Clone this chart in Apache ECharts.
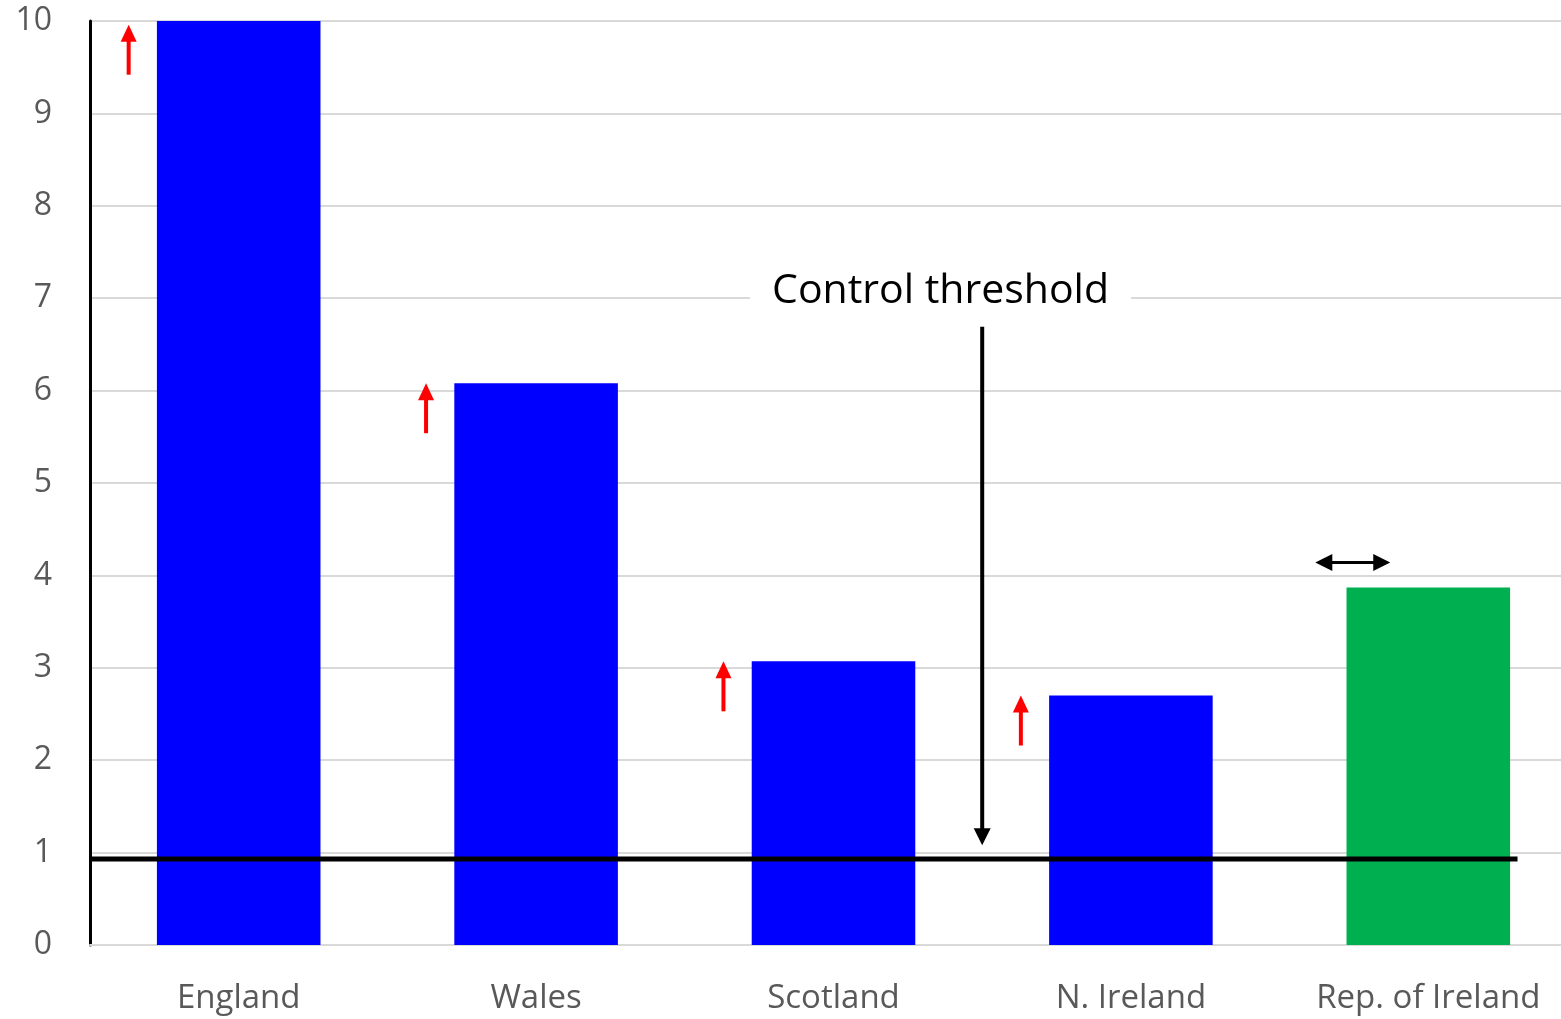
<!DOCTYPE html>
<html>
<head>
<meta charset="utf-8">
<title>Control threshold by country</title>
<script src="https://cdn.jsdelivr.net/npm/echarts@6/dist/echarts.min.js"></script>
<style>
  html, body { margin: 0; padding: 0; background: #ffffff; overflow: hidden; }
  #chart { width: 1577px; height: 1019px; }
</style>
</head>
<body>
<div id="chart"></div>
<script>
// Countries and their measured values
const categories = ['England', 'Wales', 'Scotland', 'N. Ireland', 'Rep. of Ireland'];
const values = [10, 6.08, 3.07, 2.7, 3.87];
// Direction of change for each country
const trend = ['up', 'up', 'up', 'up', 'steady'];
// Control threshold level
const threshold = 0.93;
const thresholdLabel = 'Control threshold';
// Y axis ticks
const yTicks = [0, 1, 2, 3, 4, 5, 6, 7, 8, 9, 10];

const barColours = ['#0000FF', '#0000FF', '#0000FF', '#0000FF', '#00B050'];
const FONT = '"Open Sans", Lato, sans-serif';

// Draws a straight arrow (shaft + triangular head) from (x1,y1) to (x2,y2)
function arrow(x1, y1, x2, y2, color, shaftW, headL, headW, both) {
  const dx = x2 - x1, dy = y2 - y1;
  const len = Math.sqrt(dx * dx + dy * dy);
  const ux = dx / len, uy = dy / len;
  const px = -uy, py = ux;
  const children = [];
  const head = (tx, ty, dirx, diry) => ({
    type: 'polygon',
    shape: { points: [
      [tx, ty],
      [tx - dirx * headL + px * headW / 2, ty - diry * headL + py * headW / 2],
      [tx - dirx * headL - px * headW / 2, ty - diry * headL - py * headW / 2]
    ] },
    style: { fill: color }
  });
  const sx = both ? x1 + ux * (headL - 1) : x1;
  const sy = both ? y1 + uy * (headL - 1) : y1;
  children.push({
    type: 'line',
    shape: { x1: sx, y1: sy, x2: x2 - ux * (headL - 1), y2: y2 - uy * (headL - 1) },
    style: { stroke: color, lineWidth: shaftW }
  });
  children.push(head(x2, y2, ux, uy));
  if (both) children.push(head(x1, y1, -ux, -uy));
  return children;
}

const chart = echarts.init(document.getElementById('chart'), null, { renderer: 'canvas' });

const option = {
  animation: false,
  backgroundColor: '#ffffff',
  grid: { left: 90, right: 0, top: 21, bottom: 74, containLabel: false },
  xAxis: [
    {
      type: 'category',
      data: categories,
      axisLine: { show: true, lineStyle: { color: '#d9d9d9', width: 2 } },
      axisTick: { show: false },
      axisLabel: { color: '#595959', fontSize: 33, fontFamily: FONT, margin: 37 }
    },
    {
      // Continuous companion axis spanning the same category bands
      type: 'value', min: 0, max: categories.length, show: false
    }
  ],
  yAxis: {
    type: 'value',
    min: yTicks[0],
    max: yTicks[yTicks.length - 1],
    interval: 1,
    axisLine: { show: true, lineStyle: { color: '#000000', width: 3 } },
    axisTick: { show: false },
    axisLabel: { color: '#595959', fontSize: 32, fontFamily: FONT, margin: 38 },
    splitLine: { show: true, lineStyle: { color: '#d9d9d9', width: 2 } }
  },
  series: [
    {
      name: 'Value',
      type: 'bar',
      barWidth: '55%',
      data: values.map((v, i) => ({ value: v, itemStyle: { color: barColours[i] } })),
      z: 2
    },
    {
      // Trend arrows beside each bar
      name: 'Trend',
      type: 'custom',
      xAxisIndex: 0,
      data: values.map((v, i) => [i, v]),
      z: 4,
      renderItem(params, api) {
        const i = api.value(0);
        const v = api.value(1);
        const band = api.size([1, 0])[0];
        const dir = trend[params.dataIndex];
        if (dir === 'up') {
          const tip = api.coord([i, Math.min(v, 9.96)]);
          const x = tip[0] - 0.37 * band;
          return { type: 'group', children: arrow(x, tip[1] + 50, x, tip[1], '#FF0000', 4, 17, 16, false) };
        }
        const top = api.coord([i, v + 0.27]);
        const xa = top[0] - 0.38 * band, xb = top[0] - 0.128 * band;
        return { type: 'group', children: arrow(xa, top[1], xb, top[1], '#000000', 3, 17, 17, true) };
      }
    },
    {
      // Threshold line, pointer arrow and its caption
      name: 'Threshold',
      type: 'custom',
      xAxisIndex: 1,
      data: [[0, threshold]],
      z: 5,
      renderItem(params, api) {
        const a = api.coord([0, threshold]);
        const b = api.coord([4.8, threshold]);
        const arrTop = api.coord([3, 6.69]);
        const arrTip = api.coord([3, 1.08]);
        const lab = api.coord([2.86, 7.07]);
        return {
          type: 'group',
          children: [
            {
              type: 'line',
              shape: { x1: a[0], y1: a[1], x2: b[0], y2: b[1] },
              style: { stroke: '#000000', lineWidth: 5 }
            },
            ...arrow(arrTop[0], arrTop[1], arrTip[0], arrTip[1], '#000000', 4, 17, 17, false),
            {
              type: 'text',
              x: lab[0], y: lab[1],
              style: {
                text: thresholdLabel,
                fill: '#000000',
                font: '41px ' + FONT,
                align: 'center',
                verticalAlign: 'middle',
                backgroundColor: '#ffffff',
                padding: [4, 22]
              }
            }
          ]
        };
      }
    }
  ]
};

chart.setOption(option);
</script>
</body>
</html>
